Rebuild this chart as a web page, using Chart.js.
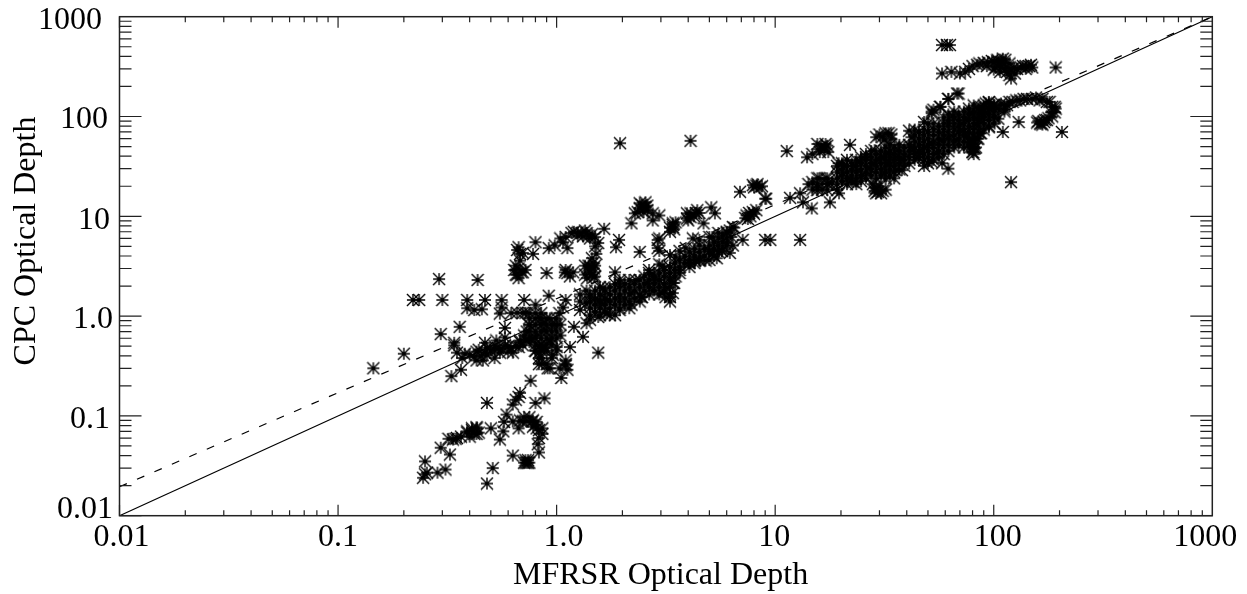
<!DOCTYPE html>
<html>
<head>
<meta charset="utf-8">
<title>CPC vs MFRSR Optical Depth</title>
<script src="https://cdn.jsdelivr.net/npm/chart.js@4"></script>
<style>
    body { margin: 0; background: #fff; }
    canvas { display: block; }
</style>
</head>
<body>
<canvas id="depthChart" width="1247" height="594"></canvas>
<script>
const xTitle = "MFRSR Optical Depth";
const yTitle = "CPC Optical Depth";
const decades = [0.01, 0.1, 1, 10, 100, 1000];
const tickLabels = ["0.01", "0.1", "1.0", "10", "100", "1000"];

// solid = 1:1 line, dashed = fit
const solidX = [0.01, 1000];
const solidY = [0.01, 1000];
const dashedX = [0.01, 1000];
const dashedY = [0.0195, 1000];

// bottom left tail
const tailX = [0.245, 0.25, 0.255, 0.285, 0.31, 0.25, 0.325, 0.295, 0.32, 0.345, 0.365, 0.39, 0.41, 0.43, 0.43,
    0.39, 0.41, 0.43, 0.42, 0.4, 0.44, 0.35, 0.335,
    0.48, 0.51, 0.48, 0.5, 0.63, 0.71, 0.72, 0.73, 0.74, 0.75, 0.72, 0.74, 0.83,
    0.55, 0.57, 0.575, 0.59, 0.63, 0.65, 0.68, 0.67, 0.63, 0.67, 0.68, 0.71, 0.75, 0.78, 0.81, 0.73, 0.78, 0.81, 0.83, 0.86, 0.83, 0.82, 0.86, 0.7, 0.77, 0.8,
    0.8, 0.88, 0.76];
const tailY = [0.024, 0.026, 0.027, 0.027, 0.029, 0.035, 0.041, 0.048, 0.059, 0.059, 0.062, 0.068, 0.072, 0.075, 0.066,
    0.07, 0.075, 0.077, 0.066, 0.062, 0.068, 0.06, 0.058,
    0.021, 0.03, 0.135, 0.075, 0.04, 0.034, 0.034, 0.034, 0.034, 0.034, 0.036, 0.036, 0.043,
    0.058, 0.07, 0.087, 0.103, 0.13, 0.145, 0.17, 0.155, 0.088, 0.075, 0.09, 0.097, 0.097, 0.09, 0.087, 0.088, 0.078, 0.075, 0.072, 0.066, 0.06, 0.052, 0.075, 0.088, 0.088, 0.082,
    0.135, 0.15, 0.225];

// around 0.3 to 1.2, the knot at 1.0
const knotX = [1.1, 1.05, 1.03, 0.91, 0.86, 1.12, 1.1, 0.83, 0.87, 0.83, 0.93, 1.55,
    0.145, 0.2, 0.33, 0.365, 0.35, 0.34, 0.4, 0.43, 0.46, 0.52, 0.44, 0.48, 0.54, 0.58, 0.6, 0.67, 0.7, 0.75, 0.55, 0.63,
    0.87, 0.84, 0.8, 0.93, 0.88, 0.81, 0.75, 0.71, 0.98, 0.93, 0.83, 1.04, 0.8, 0.68, 1.04, 0.73, 0.88, 0.96, 0.8, 0.71, 0.92,
    0.83, 1.1, 1, 1.15, 1.32, 1.2, 1.37, 1.07, 1.1, 1.03, 1.28, 1.42, 1.55, 1.85, 1.6,
    0.75, 0.75, 0.75, 0.75, 0.8, 0.8, 0.8, 0.8, 0.8, 0.8, 0.85, 0.85, 0.85, 0.85, 0.85, 0.85, 0.85, 0.85,
    0.9, 0.9, 0.9, 0.9, 0.9, 0.9, 0.9, 0.95, 0.95, 0.95, 0.95, 0.95, 1, 1, 1, 1, 1,
    0.42, 0.45, 0.48, 0.5, 0.52, 0.56, 0.6, 0.62, 0.65, 0.68, 0.72, 0.77, 0.37, 0.38, 0.47, 0.43];
const knotY = [0.32, 0.24, 0.3, 0.3, 0.33, 0.29, 0.36, 0.43, 0.49, 0.38, 0.3, 0.43,
    0.3, 0.42, 0.25, 0.29, 0.43, 0.51, 0.41, 0.36, 0.36, 0.38, 0.46, 0.48, 0.48, 0.51, 0.44, 0.49, 0.51, 0.55, 0.43, 0.43,
    0.85, 0.95, 1.07, 0.95, 0.72, 0.64, 0.82, 0.64, 0.82, 0.57, 0.5, 0.64, 0.45, 0.57, 0.82, 0.7, 0.48, 0.41, 1.3, 1.45, 1.6,
    0.33, 0.33, 0.49, 0.49, 0.62, 0.78, 0.85, 1.22, 1.45, 1.07, 1.15, 1.55, 0.98, 1.02, 1.35,
    0.6, 0.7, 0.82, 0.95, 0.45, 0.52, 0.6, 0.7, 0.82, 0.95, 0.38, 0.45, 0.52, 0.6, 0.7, 0.82, 0.95, 1.07,
    0.33, 0.45, 0.52, 0.6, 0.7, 0.82, 0.95, 0.38, 0.52, 0.6, 0.7, 0.82, 0.45, 0.6, 0.7, 0.82, 0.95,
    0.39, 0.4, 0.41, 0.45, 0.46, 0.47, 0.5, 0.48, 0.5, 0.55, 0.58, 0.6, 0.38, 0.42, 0.43, 0.44];

// scattered stars and the loop above the band
const upperX = [0.29, 0.435, 0.22, 0.235, 0.3, 0.39, 0.47, 0.56, 0.39, 0.42, 0.455, 0.56, 0.55, 0.36, 0.295, 0.34,
    0.62, 0.66, 0.7, 0.72, 0.75, 0.58, 0.53, 0.47, 0.58, 0.52,
    0.67, 0.68, 0.68, 0.67, 0.65, 0.69, 0.67, 0.7, 0.64, 0.66, 0.72, 0.66, 0.7, 0.65,
    0.9, 1.12, 1.19, 1.09, 1.42, 1.48, 1.35, 1.48, 1.85,
    0.8, 0.78, 0.92, 1.12, 1.04, 1.17, 1.3, 1.37, 1.42, 1.55, 1.52, 1.47, 1.43, 1.65, 1.93, 1.87, 2.4, 0.98, 1.07, 1.25, 1.32,
    2.5, 2.4, 2.55, 2.28, 2.2, 2.75, 2.95, 2.75, 2.6, 3.4, 3.3, 3.5, 4.1, 4.4, 4, 5.1, 5.3, 4.7, 3.95, 2.95, 2.95, 2.9, 2.9,
    6.9, 9, 7.6, 7.9, 7.3, 8.2, 7.1, 9, 9.5, 13, 8.2, 7.9, 8.7, 9.1, 3.3, 3.4,
    1.95, 4.1,
    1.2, 1.25, 1.35, 1.4, 1.45, 1.5, 1.1, 1.5, 1.45, 1.5, 1.4, 1.35,
    1.4, 1.5, 1.38, 1.45, 1.15, 1.1,
    2.4, 2.5, 2.45, 2.55, 2.35, 2.6,
    4.1, 4.25, 4.35, 3.95, 4.5, 3.4, 3.45,
    7.4, 7.7, 8, 7.5, 8.3, 8, 8.5];
const upperY = [2.35, 2.3, 1.45, 1.45, 1.45, 1.45, 1.45, 1.45, 1.2, 1.15, 1.17, 1.22, 1.06, 0.78, 0.66, 0.54,
    1.07, 1.08, 1.08, 1.08, 1.07, 0.76, 0.57, 0.54, 0.61, 0.5,
    4.9, 4.2, 3.6, 3, 2.6, 2.75, 2.4, 2.75, 2.9, 2.6, 2.9, 4.6, 4.3, 3.2,
    2.7, 2.7, 2.75, 2.75, 2.75, 3, 2.6, 2.45, 2.75,
    5.5, 4.2, 4.8, 4.8, 6, 6.8, 6.8, 6.8, 6, 5.4, 4.2, 3.4, 3.1, 7.5, 5.8, 4.9, 4.4, 5.1, 5.5, 6.9, 6.3,
    12.2, 13.5, 13.8, 10.7, 8.5, 10.7, 10.2, 9.1, 11.5, 8.2, 7, 8.7, 10.7, 11.5, 9.1, 12.3, 10.7, 8.5, 10.7, 6, 4.5, 5.8, 4.8,
    17.6, 15, 10.8, 11, 9.6, 11.5, 5.8, 5.8, 5.8, 5.8, 20.3, 20.5, 20, 15, 7.7, 8.5,
    54, 57,
    7, 6.4, 7.2, 6.4, 6.6, 6.2, 6.2, 5, 3.8, 3.2, 3, 3.2,
    3.2, 2.5, 2.4, 2.6, 2.5, 2.9,
    12, 11, 13, 12.5, 11, 12.8,
    9.8, 10, 10.8, 9.5, 10.8, 7.8, 7.4,
    10.2, 10, 10.6, 9.4, 21, 19.5, 19.5];

// main band 1.4 to 7
const bandX = [1.37, 1.63, 1.94, 2.3, 2.75, 3.05, 3.5, 3.9, 4.5, 5.15, 6, 6.4,
    1.37, 1.55, 1.7, 1.94, 2.2, 2.6, 2.95, 3.3, 3.65, 4.05, 4.5, 5.15, 5.7, 6.4,
    1.42, 1.7, 1.94, 2.2, 2.45, 2.75, 3.15, 3.4, 3.45,
    4.2, 5, 5.5, 6.2, 6.5, 6.3, 6, 5.7, 5, 4.5, 4.05, 3.65, 3.3, 2.95, 2.65,
    3.15, 3.3, 3.05, 3.4, 2.8, 2.45, 3.5, 6.2, 5.4, 4.8, 4.3];
const bandY = [1.8, 1.9, 2.15, 2.3, 2.6, 3.2, 3.9, 4.8, 5.8, 6.2, 6.8, 7.8,
    1.35, 1.45, 1.45, 1.55, 1.7, 2.15, 2.3, 2.4, 2.9, 3.4, 3.6, 4.2, 4.5, 5.1,
    0.92, 1.07, 1.15, 1.3, 1.55, 1.8, 1.55, 1.7, 2.15,
    6, 6.2, 6.8, 7.2, 7.7, 6.2, 5.4, 4.5, 4.5, 3.8, 3.4, 4.5, 4.1, 3.3, 2.9,
    1.95, 1.55, 1.7, 2.15, 2.3, 1.55, 2.5, 4.3, 3.8, 3.6, 3.6];
// the solid part of that band, read as columns
const bandFillX = [1.28, 1.28, 1.42, 1.42, 1.42, 1.42, 1.58, 1.58, 1.58, 1.58, 1.58,
    1.75, 1.75, 1.75, 1.75, 1.75, 1.94, 1.94, 1.94, 1.94, 1.94, 2.15, 2.15, 2.15, 2.15, 2.15,
    2.4, 2.4, 2.4, 2.4, 2.65, 2.65, 2.65, 2.65, 2.95, 2.95, 2.95, 2.95,
    3.3, 3.3, 3.3, 3.3, 3.3, 3.3, 3.65, 3.65, 3.65, 4.05, 4.05, 4.05,
    4.5, 4.5, 4.5, 5, 5, 5, 5.5, 5.5, 5.5, 6, 6, 6,
    1.5, 1.5, 1.5, 1.5, 1.66, 1.66, 1.66, 1.66, 1.85, 1.85, 1.85, 1.85, 2.05, 2.05, 2.05, 2.05,
    2.27, 2.27, 2.27, 2.52, 2.52, 2.52, 2.8, 2.8, 2.8, 3.1, 3.1, 3.1, 3.1,
    3.47, 3.47, 3.85, 3.85, 4.27, 4.27, 4.27, 4.75, 4.75, 5.25, 5.25, 5.25, 5.75, 5.75, 5.75];
const bandFillY = [1.4, 1.65, 1.02, 1.2, 1.4, 1.65, 1.02, 1.2, 1.4, 1.65, 1.95,
    1.02, 1.2, 1.4, 1.65, 1.95, 1.2, 1.4, 1.65, 1.95, 2.3, 1.2, 1.4, 1.65, 1.95, 2.3,
    1.4, 1.65, 1.95, 2.3, 1.65, 1.95, 2.3, 2.7, 1.65, 1.95, 2.3, 2.7,
    1.4, 1.65, 1.95, 2.3, 2.7, 3.1, 2.7, 3.1, 3.65, 3.1, 3.65, 4.4,
    3.65, 4.4, 5.1, 3.65, 4.4, 5.1, 4.4, 5.1, 6, 5.1, 6, 7,
    1.1, 1.3, 1.5, 1.8, 1.1, 1.3, 1.5, 1.8, 1.3, 1.5, 1.8, 2.1, 1.3, 1.5, 1.8, 2.1,
    1.5, 1.8, 2.1, 1.8, 2.1, 2.5, 1.8, 2.1, 2.5, 1.8, 2.1, 2.5, 2.9,
    2.9, 3.4, 3.4, 4, 3.4, 4, 4.7, 4, 4.7, 4, 4.7, 5.5, 4.7, 5.5, 6.4];

// band 11 to 100
const topBandX = [11.3, 14, 14.8, 15.6, 17.3, 16.9, 15.9, 17.5, 22, 11.7, 13, 13.4, 14.7, 17.8, 19.6,
    14.8, 15.9, 14.8, 14.2, 15.6, 17, 18.2, 16.4, 17.5, 19.5, 20.3, 21.5, 22.8, 24.5, 25, 27, 28.5, 30, 31.5, 33, 35.5, 38,
    28.5, 30.5, 29, 32, 28, 43, 41, 42, 45, 48, 52, 58, 62, 55, 57.5, 62, 67, 70, 74, 80, 78, 83, 80, 87, 95,
    78, 87, 95, 100, 100, 87, 70, 62, 74, 80, 65, 52, 46, 38, 29, 32, 33, 34, 31.5,
    52, 48, 53, 57, 62, 69, 50, 36, 42, 31.5, 28, 23, 20.5, 26, 33, 36.5,
    16.3, 16.8, 16, 17, 29, 30, 31, 29.5, 28.5, 30, 31, 34];
const topBandY = [45, 39, 42, 53, 51, 49, 47, 44, 52, 15.3, 17, 13.8, 12, 13.8, 17,
    22, 24, 18.5, 21, 19.5, 24, 22, 18.5, 21, 34, 27, 24, 22, 35, 26, 30, 46, 37, 27, 34, 29, 37,
    19.5, 17, 17, 18.5, 21, 46, 72, 62, 39, 49, 35, 34, 30, 43, 58, 62, 58, 72, 68, 44, 49, 49, 58, 68, 78,
    108, 125, 138, 130, 100, 92, 85, 85, 92, 108, 100, 53, 43, 29, 62, 68, 68, 60, 58,
    108, 88, 117, 125, 150, 170, 85, 39, 49, 39, 34, 32, 32, 39, 43, 46,
    50, 47, 44, 53, 19, 20, 18, 17.5, 18, 66, 63, 66];
const topFillX = [15.6, 15.6, 15.6, 17.3, 17.3, 17.3, 19.2, 19.2, 19.2, 19.2, 19.2,
    21.3, 21.3, 21.3, 21.3, 21.3, 23.5, 23.5, 23.5, 23.5, 23.5,
    26, 26, 26, 26, 26, 29, 29, 29, 29, 29,
    32, 32, 32, 32, 32, 32, 35, 35, 35, 35, 35, 35, 39, 39, 39, 39,
    43.5, 43.5, 43.5, 43.5, 43.5, 43.5, 48, 48, 48, 48, 48, 48, 48,
    53, 53, 53, 53, 53, 53, 53, 59, 59, 59, 59, 59, 59, 59,
    66, 66, 66, 66, 66, 66, 66, 73, 73, 73, 73, 73, 73, 73,
    81, 81, 81, 81, 81, 81, 81, 81, 81, 90, 90, 90, 90, 90,
    101, 101, 101, 101, 112, 112,
    20.2, 20.2, 20.2, 20.2, 22.4, 22.4, 22.4, 22.4, 24.7, 24.7, 24.7, 24.7, 24.7,
    27.5, 27.5, 27.5, 27.5, 27.5, 30.5, 30.5, 30.5, 30.5, 30.5,
    33.5, 33.5, 33.5, 33.5, 33.5, 33.5, 37, 37, 37, 37, 37, 41, 41, 41, 41,
    45.5, 45.5, 45.5, 45.5, 45.5, 50, 50, 50, 50, 50, 50, 56, 56, 56, 56, 56, 56,
    62, 62, 62, 62, 62, 62, 62, 69, 69, 69, 69, 69, 69,
    77, 77, 77, 77, 77, 77, 77, 85, 85, 85, 85, 85, 85, 95, 95, 95, 95];
const topFillY = [24, 21, 18.3, 24, 21, 18.3, 32, 27.7, 24, 21, 18.3,
    36.8, 32, 27.7, 24, 21, 36.8, 32, 27.7, 24, 21,
    42, 36.8, 32, 27.7, 24, 42, 36.8, 32, 27.7, 24,
    49, 42, 36.8, 32, 27.7, 24, 49, 42, 36.8, 32, 27.7, 24, 49, 42, 36.8, 32,
    74, 65, 56, 49, 42, 36.8, 74, 65, 56, 49, 42, 36.8, 32,
    85, 74, 65, 56, 49, 42, 36.8, 98, 85, 74, 65, 56, 49, 42,
    112, 98, 85, 74, 65, 56, 49, 112, 98, 85, 74, 65, 56, 49,
    129, 112, 98, 85, 74, 65, 56, 49, 42, 129, 112, 98, 85, 74,
    129, 112, 98, 85, 129, 112,
    34, 29.5, 25.5, 22.5, 34, 29.5, 25.5, 22.5, 39, 34, 29.5, 25.5, 22.5,
    45, 39, 34, 29.5, 25.5, 45, 39, 34, 29.5, 25.5,
    52, 45, 39, 34, 29.5, 25.5, 52, 45, 39, 34, 29.5, 52, 45, 39, 34,
    70, 60, 52, 45, 39, 70, 60, 52, 45, 39, 34, 80, 70, 60, 52, 45, 39,
    105, 92, 80, 70, 60, 52, 45, 105, 92, 80, 70, 60, 52,
    120, 105, 92, 80, 70, 60, 52, 120, 105, 92, 80, 70, 60, 120, 105, 92, 80];

// upper right arm and hook
const armX = [61, 58, 63, 64, 74, 80, 86, 94, 104, 113, 102, 107, 116, 120, 118, 107, 124, 133, 145, 150, 140, 192, 68, 62, 52, 57,
    95, 86, 96, 118, 112, 127, 137, 156, 167, 185, 190, 175, 163, 158, 167, 130, 110, 205, 120,
    80, 80, 90, 83, 87,
    90, 98, 108, 112, 118, 108, 100, 112, 115, 120, 125, 105, 110, 128, 136, 140, 148, 70, 77, 84, 93, 100, 58,
    100, 105, 108, 115, 122, 132, 142, 150, 162, 175, 180, 190, 192, 185, 178, 170, 160, 172, 165, 183, 90, 92, 98, 88, 105,
    80, 82, 78, 76, 84];
const armY = [520, 520, 520, 280, 280, 320, 340, 350, 370, 370, 310, 330, 310, 240, 260, 280, 310, 310, 320, 310, 300, 310, 170, 150, 112, 125,
    140, 122, 118, 140, 118, 145, 150, 155, 150, 125, 110, 92, 85, 87, 83, 88, 70, 70, 22,
    44, 53, 100, 85, 68,
    345, 360, 350, 340, 340, 310, 295, 300, 280, 290, 270, 350, 380, 300, 320, 320, 330, 270, 300, 330, 320, 350, 270,
    130, 120, 135, 130, 140, 145, 150, 150, 145, 140, 140, 125, 120, 100, 96, 88, 90, 92, 85, 110, 115, 135, 125, 110, 95,
    49, 48, 55, 62, 60];

const mfrsrDepth = [...tailX, ...knotX, ...upperX, ...bandX, ...bandFillX, ...topBandX, ...topFillX, ...armX];
const cpcDepth = [...tailY, ...knotY, ...upperY, ...bandY, ...bandFillY, ...topBandY, ...topFillY, ...armY];

function toPoints(xs, ys) {
    return xs.map((x, i) => ({ x: x, y: ys[i] }));
}

// asterisk marker, the built in star is too narrow on the diagonals
function makeStar() {
    const c = document.createElement("canvas");
    c.width = 14;
    c.height = 14;
    const g = c.getContext("2d");
    g.strokeStyle = "#000";
    g.lineWidth = 1.4;
    g.beginPath();
    g.moveTo(1, 1); g.lineTo(13, 13);
    g.moveTo(13, 1); g.lineTo(1, 13);
    g.moveTo(7, 1); g.lineTo(7, 13);
    g.moveTo(1, 7); g.lineTo(13, 7);
    g.stroke();
    return c;
}

const FONT = '32px "Liberation Serif", "Times New Roman", serif';
const INK = "#222";
const xLabelShift = [2, 0, 7, -1, 4, -7];
const yLabelRight = [113, 110, 113, 110, 108, 102];
const yLabelDrop = [2, 12, 12, 13, 11, 12];

// IDL style frame: ticks go inward on all four sides, labels are hand placed
const frame = {
    id: "frame",
    afterDraw(chart) {
        const { ctx, chartArea: a, scales } = chart;
        const sx = scales.x;
        const sy = scales.y;
        ctx.save();
        ctx.strokeStyle = INK;
        ctx.lineWidth = 1.5;
        ctx.strokeRect(a.left, a.top, a.right - a.left, a.bottom - a.top);
        ctx.lineWidth = 1.2;
        ctx.beginPath();
        decades.slice(0, -1).forEach((d) => {
            for (let m = 1; m < 10; m++) {
                const len = m === 1 ? 1 : 0.5;
                const px = sx.getPixelForValue(d * m);
                ctx.moveTo(px, a.bottom); ctx.lineTo(px, a.bottom - 11 * len);
                ctx.moveTo(px, a.top); ctx.lineTo(px, a.top + 11 * len);
                const py = sy.getPixelForValue(d * m);
                const ylen = m === 1 ? 22 : 12;
                ctx.moveTo(a.left, py); ctx.lineTo(a.left + ylen, py);
                ctx.moveTo(a.right, py); ctx.lineTo(a.right - ylen, py);
            }
        });
        ctx.stroke();

        ctx.fillStyle = "#000";
        ctx.font = FONT;
        ctx.textBaseline = "alphabetic";
        decades.forEach((d, i) => {
            ctx.textAlign = "center";
            ctx.fillText(tickLabels[i], sx.getPixelForValue(d) + xLabelShift[i], 546);
            ctx.textAlign = "right";
            ctx.fillText(tickLabels[i], yLabelRight[i], sy.getPixelForValue(d) + yLabelDrop[i]);
        });
        ctx.textAlign = "left";
        ctx.fillText(xTitle, 513, 584);
        ctx.translate(35, 241);
        ctx.rotate(-Math.PI / 2);
        ctx.textAlign = "center";
        ctx.fillText(yTitle, 0, 0);
        ctx.restore();
    },
};

const hiddenAxis = {
    type: "logarithmic",
    min: 0.01,
    max: 1000,
    grid: { display: false, drawTicks: false, tickLength: 0 },
    border: { display: false },
    ticks: { display: false },
};

new Chart(document.getElementById("depthChart"), {
    type: "scatter",
    data: {
        datasets: [
            {
                label: "1:1",
                data: toPoints(solidX, solidY),
                showLine: true,
                borderColor: "#000",
                borderWidth: 1.2,
                pointRadius: 0,
            },
            {
                label: "Fit",
                data: toPoints(dashedX, dashedY),
                showLine: true,
                borderColor: "#000",
                borderWidth: 1.2,
                borderDash: [8, 11],
                pointRadius: 0,
            },
            {
                label: "CPC vs MFRSR",
                data: toPoints(mfrsrDepth, cpcDepth),
                pointStyle: makeStar(),
                pointRadius: 7,
                showLine: false,
            },
        ],
    },
    options: {
        responsive: false,
        animation: false,
        layout: { padding: { left: 119.5, right: 34.7, top: 16.7, bottom: 78.3 } },
        scales: { x: { ...hiddenAxis }, y: { ...hiddenAxis } },
        plugins: { legend: { display: false }, title: { display: false }, tooltip: { enabled: false } },
    },
    plugins: [frame],
});
</script>
</body>
</html>
